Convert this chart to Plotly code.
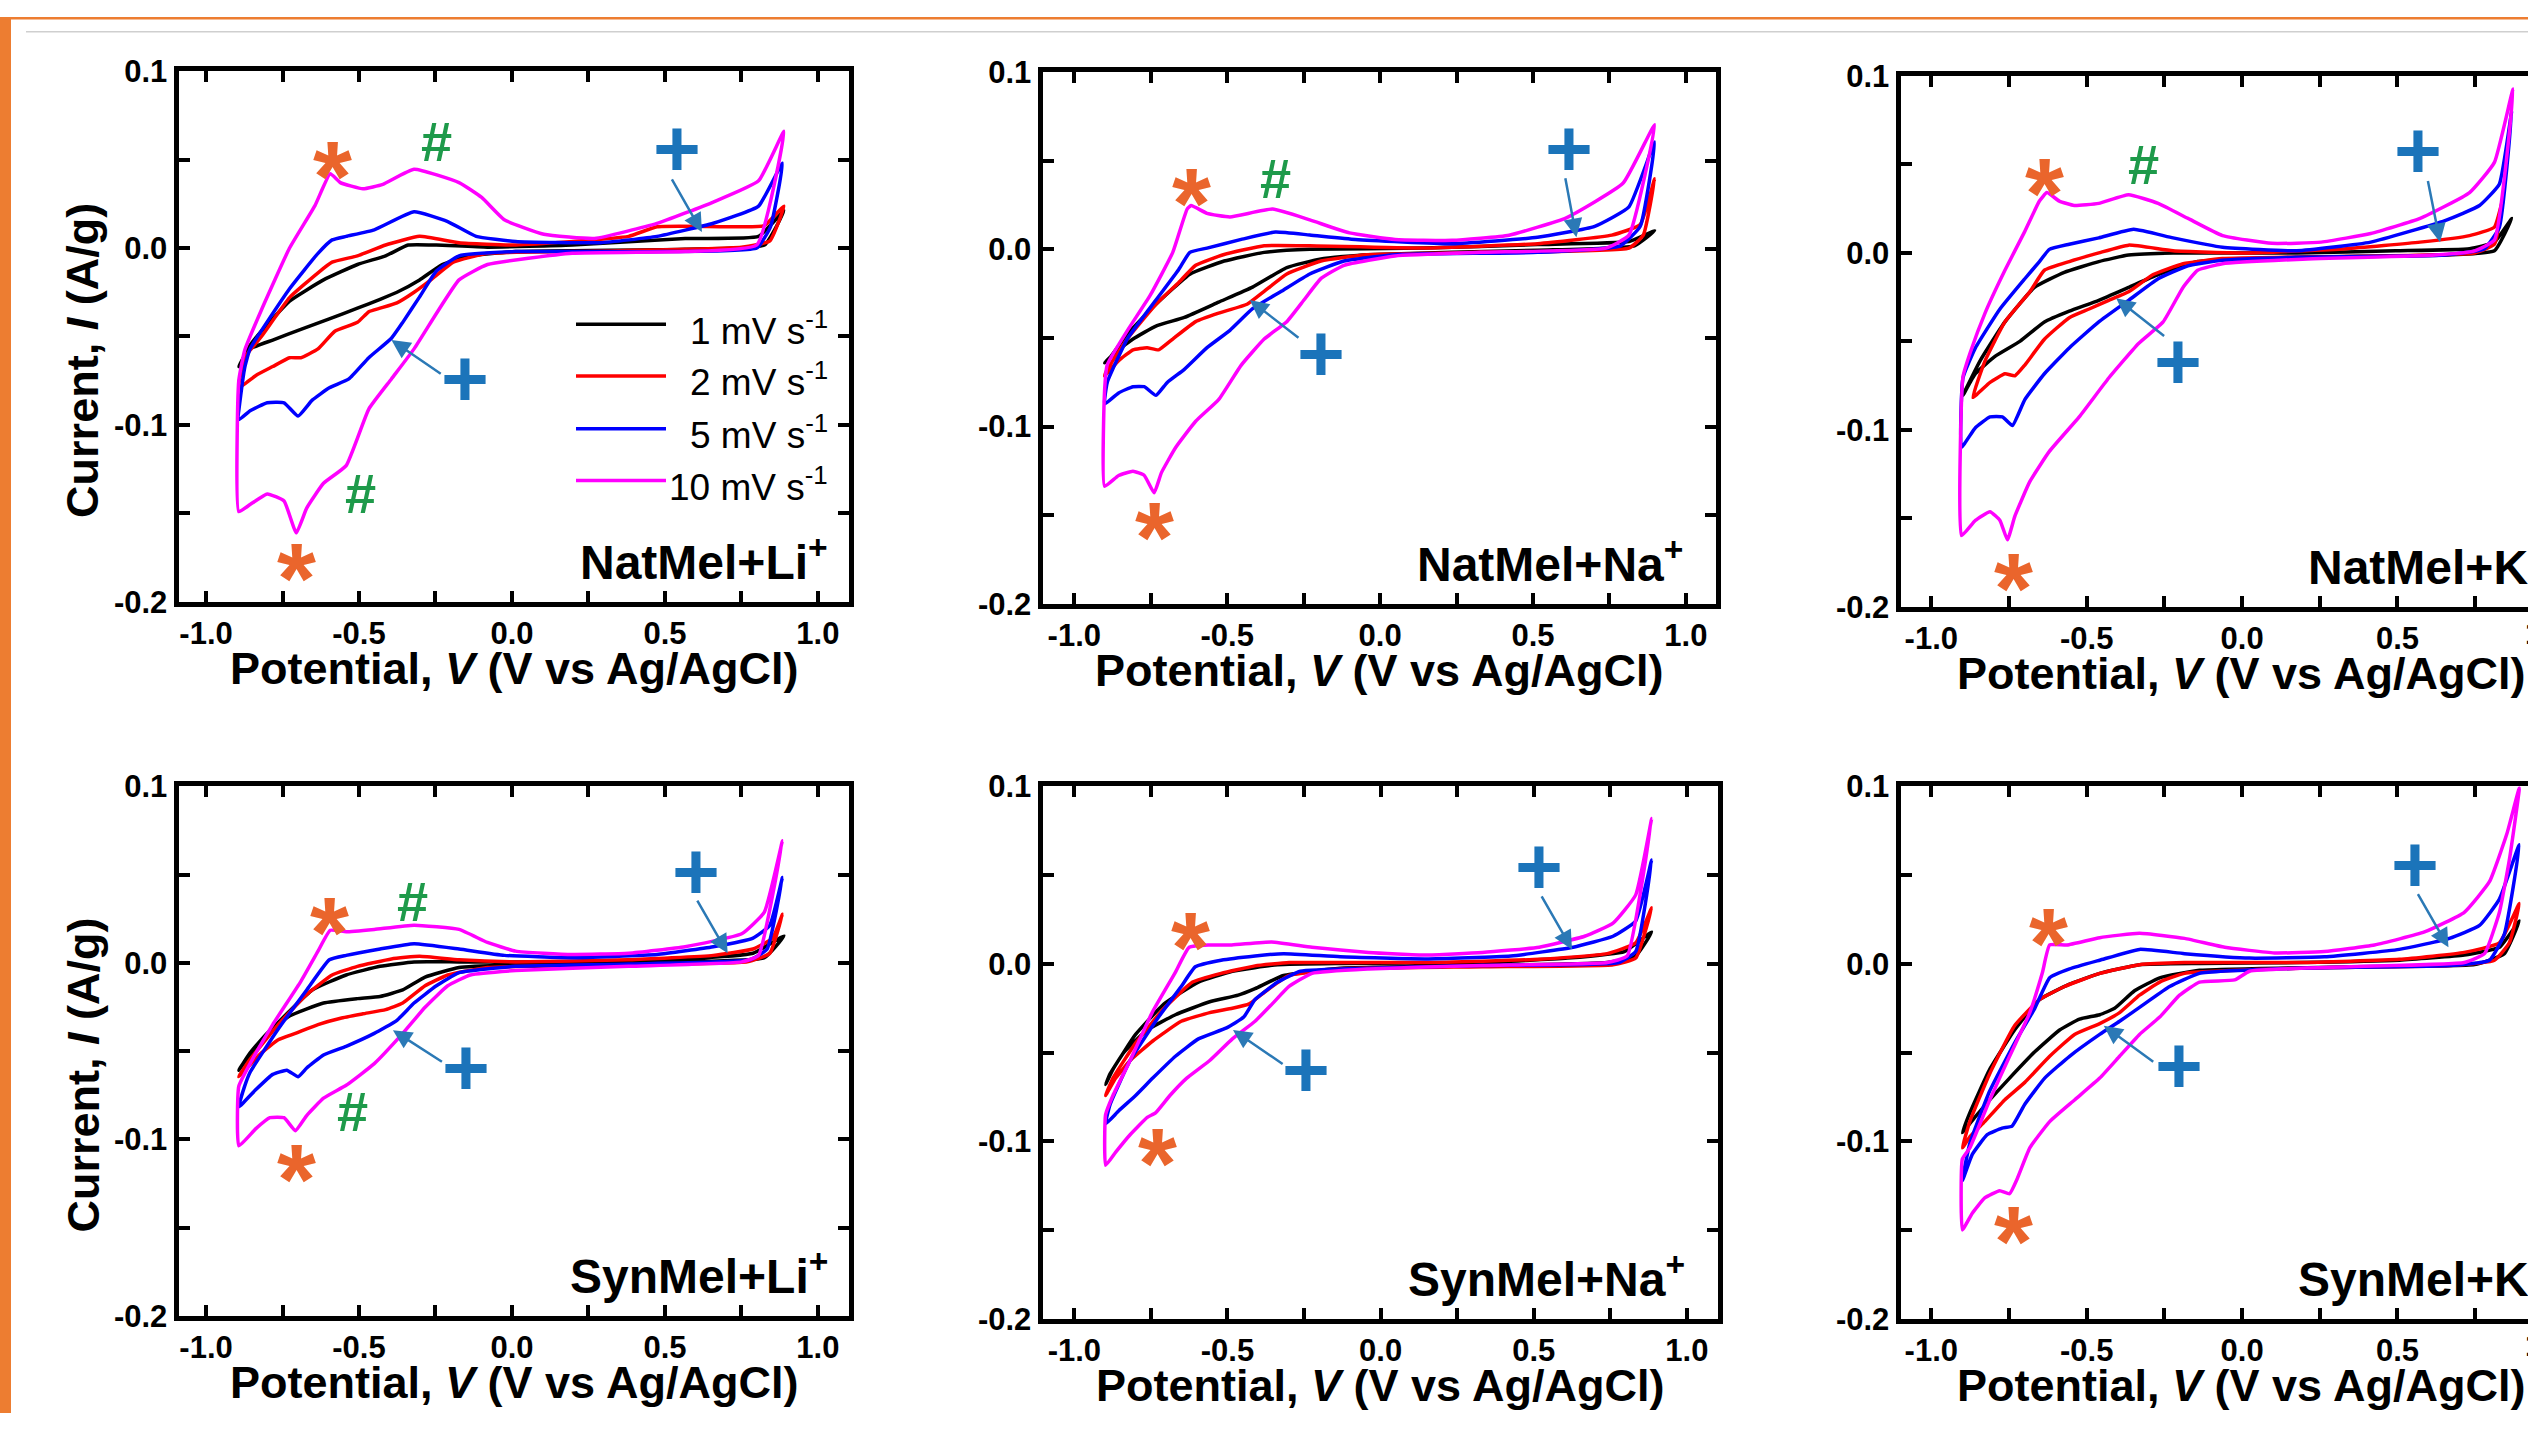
import plotly.graph_objects as go

W, H = 2528, 1431

# ---------------- data: cyclic voltammograms (V vs Ag/AgCl, A/g) ----------------
# Panel 1: NatMel + Li+
P1_V_1 = [-0.893, -0.856, -0.819, -0.727, -0.616, -0.505, -0.413, -0.339, -0.247, -0.08, 0.197, 0.566, 0.806, 0.889, 0.825, 0.566, 0.012, -0.136, -0.228, -0.302, -0.376, -0.431, -0.505, -0.597, -0.69, -0.782, -0.856, -0.893]
P1_I_1 = [-0.067, -0.055, -0.047, -0.030, -0.018, -0.0093, -0.0044, 0.0017, 0.0017, 0.0005, 0.0017, 0.0054, 0.0066, 0.021, 0.0017, -0.0007, -0.002, -0.0044, -0.0093, -0.018, -0.025, -0.029, -0.034, -0.040, -0.046, -0.052, -0.057, -0.067]
P1_V_2 = [-0.893, -0.874, -0.819, -0.727, -0.634, -0.588, -0.505, -0.413, -0.302, -0.173, 0.012, 0.381, 0.474, 0.751, 0.825, 0.889, 0.843, 0.75, 0.197, -0.08, -0.192, -0.265, -0.32, -0.376, -0.431, -0.468, -0.505, -0.579, -0.634, -0.69, -0.727, -0.782, -0.837, -0.893]
P1_I_2 = [-0.079, -0.062, -0.05, -0.028, -0.014, -0.008, -0.0044, 0.0017, 0.0066, 0.003, 0.0017, 0.0066, 0.012, 0.012, 0.0127, 0.0237, 0.004, 0.0005, -0.002, -0.003, -0.008, -0.018, -0.025, -0.031, -0.034, -0.036, -0.042, -0.047, -0.057, -0.062, -0.062, -0.067, -0.072, -0.079]
P1_V_5 = [-0.893, -0.874, -0.856, -0.727, -0.634, -0.588, -0.542, -0.45, -0.32, -0.21, -0.117, 0.012, 0.289, 0.474, 0.658, 0.806, 0.884, 0.845, 0.80, 0.5, 0.012, -0.173, -0.247, -0.302, -0.357, -0.394, -0.468, -0.533, -0.597, -0.653, -0.699, -0.745, -0.8, -0.856, -0.893]
P1_I_5 = [-0.097, -0.068, -0.057, -0.023, -0.003, 0.0046, 0.0066, 0.0103, 0.0205, 0.015, 0.0066, 0.0037, 0.003, 0.0066, 0.014, 0.0237, 0.048, 0.012, 0.0, -0.002, -0.002, -0.0044, -0.013, -0.0276, -0.042, -0.051, -0.062, -0.074, -0.079, -0.086, -0.095, -0.0875, -0.0875, -0.092, -0.097]
P1_V_10 = [-0.893, -0.893, -0.874, -0.819, -0.727, -0.644, -0.594, -0.561, -0.487, -0.422, -0.32, -0.173, -0.099, -0.025, 0.104, 0.27, 0.474, 0.658, 0.806, 0.889, 0.80, 0.566, 0.197, -0.08, -0.173, -0.247, -0.32, -0.394, -0.468, -0.542, -0.616, -0.671, -0.705, -0.745, -0.8, -0.856, -0.893]
P1_I_10 = [-0.149, -0.075, -0.058, -0.035, 0.0, 0.024, 0.042, 0.037, 0.0335, 0.036, 0.0445, 0.037, 0.0286, 0.016, 0.0078, 0.0054, 0.0139, 0.026, 0.038, 0.066, 0.0017, -0.002, -0.003, -0.0093, -0.018, -0.037, -0.057, -0.074, -0.091, -0.123, -0.133, -0.147, -0.161, -0.143, -0.139, -0.145, -0.149]

# Panel 2: NatMel + Na+
P2_V_1 = [-0.901, -0.892, -0.827, -0.733, -0.622, -0.51, -0.379, -0.23, 0.143, 0.515, 0.814, 0.898, 0.832, 0.515, -0.044, -0.193, -0.305, -0.417, -0.528, -0.64, -0.733, -0.808, -0.864, -0.901]
P2_I_1 = [-0.064, -0.063, -0.048, -0.031, -0.014, -0.0066, -0.0017, 0.0, 0.0007, 0.0027, 0.0044, 0.0105, 0.002, -0.0005, -0.003, -0.0054, -0.0103, -0.0213, -0.0298, -0.0384, -0.0433, -0.0506, -0.058, -0.064]
P2_V_2 = [-0.901, -0.892, -0.827, -0.733, -0.659, -0.603, -0.51, -0.379, -0.23, 0.143, 0.515, 0.758, 0.851, 0.898, 0.861, 0.814, 0.329, -0.044, -0.193, -0.305, -0.379, -0.435, -0.528, -0.603, -0.678, -0.724, -0.762, -0.808, -0.855, -0.901]
P2_I_2 = [-0.0714, -0.0677, -0.0506, -0.031, -0.0188, -0.009, -0.0029, 0.002, 0.002, 0.0007, 0.0032, 0.008, 0.014, 0.0399, 0.008, 0.0007, -0.0017, -0.003, -0.0066, -0.0139, -0.0237, -0.031, -0.036, -0.0408, -0.0506, -0.0567, -0.0555, -0.0567, -0.0628, -0.0714]
P2_V_5 = [-0.901, -0.892, -0.827, -0.733, -0.659, -0.622, -0.566, -0.454, -0.342, -0.23, -0.081, 0.236, 0.515, 0.702, 0.814, 0.898, 0.851, 0.786, 0.515, 0.049, -0.118, -0.23, -0.323, -0.417, -0.491, -0.566, -0.64, -0.696, -0.733, -0.771, -0.808, -0.855, -0.901]
P2_I_5 = [-0.0873, -0.075, -0.0506, -0.0286, -0.0115, -0.0017, 0.0007, 0.0056, 0.0098, 0.0081, 0.0056, 0.0032, 0.0068, 0.013, 0.024, 0.0606, 0.013, 0.002, -0.0017, -0.003, -0.0066, -0.0139, -0.0237, -0.0335, -0.0457, -0.0555, -0.0677, -0.0751, -0.0824, -0.0775, -0.0775, -0.081, -0.0873]
P2_V_10 = [-0.901, -0.901, -0.892, -0.827, -0.752, -0.678, -0.631, -0.618, -0.566, -0.491, -0.351, -0.23, -0.1, 0.049, 0.236, 0.422, 0.609, 0.795, 0.898, 0.814, 0.739, 0.329, 0.049, -0.118, -0.193, -0.249, -0.305, -0.379, -0.454, -0.528, -0.603, -0.668, -0.715, -0.739, -0.771, -0.808, -0.855, -0.901]
P2_I_10 = [-0.1337, -0.08, -0.065, -0.046, -0.026, -0.0017, 0.0227, 0.0247, 0.0203, 0.0183, 0.0227, 0.0166, 0.0093, 0.0056, 0.0051, 0.008, 0.0178, 0.0374, 0.0704, 0.008, 0.0007, -0.0017, -0.0037, -0.009, -0.0164, -0.0286, -0.0408, -0.0506, -0.0653, -0.0848, -0.097, -0.1117, -0.126, -0.1374, -0.1276, -0.1252, -0.1276, -0.1337]

# Panel 3: NatMel + K+
P3_V_1 = [-0.898, -0.843, -0.763, -0.668, -0.572, -0.461, -0.365, -0.222, 0.176, 0.494, 0.732, 0.812, 0.868, 0.812, 0.653, 0.176, -0.143, -0.27, -0.365, -0.461, -0.556, -0.636, -0.715, -0.795, -0.858, -0.898]
P3_I_1 = [-0.0805, -0.061, -0.039, -0.0195, -0.011, -0.0049, -0.0012, 0.0, 0.0, 0.0012, 0.0024, 0.0061, 0.0195, 0.0012, -0.0012, -0.0024, -0.0049, -0.0122, -0.0195, -0.0268, -0.0329, -0.039, -0.05, -0.0585, -0.0683, -0.0805]
P3_V_2 = [-0.866, -0.827, -0.763, -0.683, -0.636, -0.556, -0.461, -0.365, -0.222, 0.017, 0.335, 0.573, 0.732, 0.812, 0.841, 0.812, 0.748, 0.335, -0.063, -0.19, -0.286, -0.365, -0.429, -0.492, -0.556, -0.636, -0.699, -0.731, -0.763, -0.811, -0.866]
P3_I_2 = [-0.0817, -0.061, -0.039, -0.022, -0.0098, -0.0049, 0.0, 0.0044, 0.0012, 0.0, 0.0024, 0.0061, 0.0098, 0.0146, 0.0317, 0.0049, 0.0, -0.002, -0.0032, -0.0061, -0.0122, -0.022, -0.0268, -0.0317, -0.0366, -0.0488, -0.0634, -0.0695, -0.0683, -0.0732, -0.0817]
P3_V_5 = [-0.903, -0.898, -0.858, -0.779, -0.699, -0.652, -0.62, -0.556, -0.461, -0.349, -0.222, -0.063, 0.176, 0.414, 0.653, 0.764, 0.828, 0.868, 0.828, 0.78, 0.653, 0.176, -0.063, -0.174, -0.27, -0.365, -0.461, -0.556, -0.636, -0.699, -0.739, -0.771, -0.811, -0.858, -0.903]
P3_I_5 = [-0.1098, -0.0707, -0.0537, -0.0317, -0.0146, -0.0049, 0.002, 0.0049, 0.0085, 0.0134, 0.0085, 0.0032, 0.0012, 0.0061, 0.0183, 0.0268, 0.039, 0.0805, 0.0146, 0.0024, -0.0012, -0.0024, -0.0041, -0.0073, -0.0146, -0.0268, -0.039, -0.0537, -0.0683, -0.0829, -0.0976, -0.0927, -0.0927, -0.0988, -0.1098]
P3_V_10 = [-0.903, -0.898, -0.874, -0.827, -0.763, -0.699, -0.652, -0.628, -0.588, -0.54, -0.461, -0.365, -0.27, -0.174, -0.063, 0.096, 0.255, 0.414, 0.573, 0.732, 0.812, 0.872, 0.812, 0.748, 0.621, 0.176, -0.063, -0.143, -0.19, -0.254, -0.333, -0.429, -0.524, -0.62, -0.683, -0.731, -0.755, -0.779, -0.811, -0.858, -0.903]
P3_I_10 = [-0.1598, -0.07, -0.056, -0.034, -0.0098, 0.0122, 0.0293, 0.0341, 0.0293, 0.0268, 0.028, 0.0329, 0.028, 0.0195, 0.0098, 0.0054, 0.0061, 0.011, 0.0195, 0.0341, 0.0512, 0.0927, 0.0073, 0.0012, -0.0012, -0.0037, -0.0061, -0.0098, -0.0195, -0.039, -0.0512, -0.0707, -0.0927, -0.1122, -0.1293, -0.1488, -0.1622, -0.1512, -0.1463, -0.1512, -0.1598]

# Panel 4: SynMel + Li+
P4_V_1 = [-0.893, -0.856, -0.764, -0.653, -0.542, -0.431, -0.32, -0.173, 0.197, 0.566, 0.788, 0.889, 0.825, 0.566, 0.012, -0.173, -0.284, -0.357, -0.431, -0.505, -0.616, -0.727, -0.801, -0.856, -0.893]
P4_I_1 = [-0.0608, -0.0522, -0.0338, -0.0154, -0.0069, -0.002, 0.0005, 0.0005, 0.0005, 0.0022, 0.0054, 0.0152, 0.0029, 0.0005, -0.0012, -0.0027, -0.0081, -0.0154, -0.0191, -0.0203, -0.0228, -0.0301, -0.04, -0.051, -0.0608]
P4_V_2 = [-0.893, -0.856, -0.764, -0.671, -0.588, -0.505, -0.394, -0.302, -0.173, 0.012, 0.381, 0.658, 0.788, 0.852, 0.884, 0.843, 0.769, 0.381, -0.08, -0.21, -0.284, -0.357, -0.413, -0.487, -0.56, -0.634, -0.708, -0.764, -0.819, -0.893]
P4_I_2 = [-0.0645, -0.0547, -0.035, -0.0179, -0.0069, -0.002, 0.0022, 0.0037, 0.0017, 0.0005, 0.0017, 0.0042, 0.0078, 0.014, 0.0275, 0.0054, 0.0005, -0.0012, -0.0027, -0.0069, -0.013, -0.0228, -0.0265, -0.0289, -0.0314, -0.035, -0.04, -0.0436, -0.051, -0.0645]
P4_V_5 = [-0.893, -0.874, -0.856, -0.764, -0.671, -0.597, -0.542, -0.431, -0.32, -0.173, -0.025, 0.197, 0.474, 0.658, 0.788, 0.843, 0.884, 0.834, 0.778, 0.381, 0.012, -0.173, -0.247, -0.32, -0.376, -0.45, -0.542, -0.616, -0.671, -0.699, -0.736, -0.782, -0.837, -0.893]
P4_I_5 = [-0.0816, -0.07, -0.062, -0.0375, -0.0154, 0.0017, 0.0042, 0.0078, 0.0108, 0.0078, 0.0042, 0.0029, 0.0047, 0.0091, 0.014, 0.0213, 0.0483, 0.0078, 0.0017, -0.0007, -0.002, -0.0056, -0.013, -0.0228, -0.0326, -0.04, -0.0473, -0.0522, -0.0596, -0.0645, -0.0608, -0.0632, -0.0718, -0.0816]
P4_V_10 = [-0.893, -0.893, -0.856, -0.782, -0.69, -0.634, -0.594, -0.542, -0.45, -0.32, -0.173, -0.08, 0.012, 0.197, 0.381, 0.566, 0.751, 0.825, 0.884, 0.806, 0.751, 0.381, 0.012, -0.136, -0.21, -0.284, -0.357, -0.45, -0.542, -0.616, -0.671, -0.708, -0.745, -0.791, -0.837, -0.893]
P4_I_10 = [-0.1037, -0.07, -0.0571, -0.035, -0.0105, 0.0066, 0.0184, 0.0176, 0.0189, 0.0213, 0.0189, 0.0115, 0.0066, 0.0047, 0.0054, 0.0091, 0.0164, 0.0287, 0.0691, 0.0042, 0.0005, -0.002, -0.0044, -0.0069, -0.013, -0.0252, -0.04, -0.0571, -0.0694, -0.0767, -0.0865, -0.0951, -0.0877, -0.0877, -0.0939, -0.1037]

# Panel 5: SynMel + Na+
P5_V_1 = [-0.898, -0.874, -0.8, -0.707, -0.595, -0.484, -0.336, -0.132, 0.332, 0.61, 0.796, 0.885, 0.833, 0.74, 0.332, -0.132, -0.317, -0.41, -0.465, -0.558, -0.67, -0.762, -0.837, -0.883, -0.898]
P5_I_1 = [-0.068, -0.0595, -0.0398, -0.0226, -0.0103, -0.0042, -0.0005, 0.0002, 0.0007, 0.0032, 0.0069, 0.0179, 0.0044, 0.0007, -0.001, -0.0025, -0.0066, -0.014, -0.0177, -0.0214, -0.0287, -0.0373, -0.0496, -0.0619, -0.068]
P5_V_2 = [-0.898, -0.874, -0.8, -0.707, -0.614, -0.521, -0.41, -0.299, -0.132, 0.147, 0.518, 0.74, 0.833, 0.885, 0.833, 0.759, 0.332, -0.132, -0.299, -0.373, -0.429, -0.484, -0.558, -0.651, -0.744, -0.818, -0.865, -0.898]
P5_I_2 = [-0.0742, -0.0644, -0.0447, -0.0251, -0.0103, -0.0054, -0.0012, 0.0007, 0.0007, 0.0007, 0.0025, 0.0057, 0.0118, 0.0315, 0.0032, -0.0005, -0.0017, -0.0029, -0.0066, -0.0152, -0.0226, -0.0251, -0.0275, -0.0324, -0.0435, -0.0545, -0.0644, -0.0742]
P5_V_5 = [-0.898, -0.883, -0.818, -0.725, -0.651, -0.605, -0.521, -0.41, -0.317, -0.132, 0.147, 0.425, 0.629, 0.759, 0.833, 0.885, 0.833, 0.777, 0.332, -0.039, -0.262, -0.336, -0.41, -0.447, -0.503, -0.595, -0.67, -0.744, -0.8, -0.855, -0.898]
P5_I_5 = [-0.0902, -0.0791, -0.0545, -0.03, -0.0128, -0.0017, 0.002, 0.0044, 0.0057, 0.0039, 0.0027, 0.0044, 0.0093, 0.0155, 0.0241, 0.0585, 0.0069, 0.0007, -0.001, -0.0025, -0.0042, -0.0103, -0.0201, -0.03, -0.0361, -0.0423, -0.0521, -0.0644, -0.0742, -0.0828, -0.0902]
P5_V_10 = [-0.898, -0.898, -0.874, -0.818, -0.746, -0.672, -0.625, -0.561, -0.486, -0.356, -0.224, -0.039, 0.147, 0.332, 0.518, 0.666, 0.759, 0.833, 0.885, 0.805, 0.74, 0.332, -0.039, -0.224, -0.299, -0.354, -0.41, -0.484, -0.558, -0.633, -0.688, -0.735, -0.762, -0.818, -0.865, -0.898]
P5_I_10 = [-0.1135, -0.085, -0.0742, -0.0545, -0.0275, -0.0054, 0.0093, 0.0106, 0.0106, 0.0123, 0.0093, 0.0064, 0.0049, 0.0064, 0.0093, 0.0155, 0.0229, 0.0388, 0.0818, 0.0044, 0.0007, -0.001, -0.0029, -0.0054, -0.0128, -0.0226, -0.0324, -0.0423, -0.0545, -0.0644, -0.0742, -0.084, -0.0865, -0.0963, -0.1061, -0.1135]

# Panel 6: SynMel + K+
P6_V_1 = [-0.9, -0.876, -0.812, -0.732, -0.651, -0.555, -0.458, -0.33, -0.137, 0.185, 0.506, 0.715, 0.828, 0.892, 0.844, 0.748, 0.346, -0.137, -0.265, -0.346, -0.41, -0.458, -0.523, -0.587, -0.667, -0.748, -0.812, -0.86, -0.9]
P6_I_1 = [-0.0951, -0.084, -0.0595, -0.0373, -0.0201, -0.0115, -0.0054, -0.0005, 0.0002, 0.0007, 0.002, 0.0049, 0.0093, 0.0241, 0.0057, -0.0005, -0.0017, -0.0037, -0.0079, -0.0152, -0.0251, -0.0287, -0.0312, -0.0373, -0.0496, -0.0644, -0.0767, -0.0865, -0.0951]
P6_V_2 = [-0.9, -0.876, -0.812, -0.732, -0.651, -0.571, -0.458, -0.33, -0.185, 0.185, 0.506, 0.715, 0.828, 0.892, 0.86, 0.812, 0.667, 0.185, -0.185, -0.265, -0.33, -0.394, -0.458, -0.539, -0.619, -0.699, -0.764, -0.828, -0.876, -0.9]
P6_I_2 = [-0.1037, -0.0889, -0.0619, -0.0349, -0.0201, -0.0128, -0.0054, -0.0005, 0.0007, 0.0007, 0.0025, 0.0064, 0.0118, 0.0339, 0.0118, 0.002, -0.001, -0.0025, -0.0054, -0.0103, -0.0177, -0.0275, -0.0337, -0.0398, -0.0521, -0.0668, -0.0767, -0.0889, -0.0975, -0.1037]
P6_V_5 = [-0.9, -0.876, -0.812, -0.732, -0.667, -0.619, -0.555, -0.458, -0.33, -0.185, 0.024, 0.265, 0.506, 0.667, 0.764, 0.828, 0.892, 0.844, 0.796, 0.667, 0.185, -0.137, -0.233, -0.314, -0.394, -0.458, -0.555, -0.635, -0.699, -0.74, -0.772, -0.82, -0.868, -0.9]
P6_I_5 = [-0.1221, -0.1012, -0.0717, -0.0447, -0.0251, -0.0079, -0.0029, 0.002, 0.0081, 0.0057, 0.0032, 0.0039, 0.0081, 0.0143, 0.0216, 0.0364, 0.0671, 0.0167, 0.002, -0.001, -0.0025, -0.0054, -0.0128, -0.0226, -0.0324, -0.0398, -0.0521, -0.0644, -0.0791, -0.0914, -0.0926, -0.0963, -0.1074, -0.1221]
P6_V_10 = [-0.9, -0.9, -0.876, -0.812, -0.748, -0.683, -0.643, -0.619, -0.563, -0.458, -0.33, -0.185, -0.056, 0.104, 0.265, 0.426, 0.587, 0.715, 0.796, 0.852, 0.892, 0.86, 0.828, 0.78, 0.715, 0.346, 0.024, -0.024, -0.137, -0.201, -0.265, -0.33, -0.394, -0.458, -0.539, -0.619, -0.683, -0.723, -0.748, -0.78, -0.828, -0.868, -0.9]
P6_I_10 = [-0.1499, -0.11, -0.1037, -0.0767, -0.0521, -0.0275, -0.0054, 0.0106, 0.0106, 0.0147, 0.0172, 0.0143, 0.0093, 0.0061, 0.0069, 0.0106, 0.0179, 0.029, 0.0462, 0.0732, 0.099, 0.0585, 0.029, 0.0057, 0.0007, -0.0017, -0.0042, -0.0091, -0.0103, -0.0177, -0.03, -0.0398, -0.0521, -0.0644, -0.0767, -0.0889, -0.1037, -0.1209, -0.1295, -0.1278, -0.1319, -0.1405, -0.1499]

SCAN_RATES = ["1 mV s<sup>-1</sup>", "2 mV s<sup>-1</sup>", "5 mV s<sup>-1</sup>", "10 mV s<sup>-1</sup>"]
PANEL_LABELS = ["NatMel+Li<sup>+</sup>", "NatMel+Na<sup>+</sup>", "NatMel+K<sup>+</sup>",
                "SynMel+Li<sup>+</sup>", "SynMel+Na<sup>+</sup>", "SynMel+K<sup>+</sup>"]
X_TICKVALS = [-1.0, -0.5, 0.0, 0.5, 1.0]
X_TICKTEXT = ["-1.0", "-0.5", "0.0", "0.5", "1.0"]
Y_TICKVALS = [0.1, 0.0, -0.1, -0.2]
Y_TICKTEXT = ["0.1", "0.0", "-0.1", "-0.2"]
X_TITLE = "<b>Potential, <i>V</i> (V vs Ag/AgCl)</b>"
Y_TITLE = "<b>Current, <i>I</i> (A/g)</b>"

CURVES = [
    [(P1_V_1, P1_I_1), (P1_V_2, P1_I_2), (P1_V_5, P1_I_5), (P1_V_10, P1_I_10)],
    [(P2_V_1, P2_I_1), (P2_V_2, P2_I_2), (P2_V_5, P2_I_5), (P2_V_10, P2_I_10)],
    [(P3_V_1, P3_I_1), (P3_V_2, P3_I_2), (P3_V_5, P3_I_5), (P3_V_10, P3_I_10)],
    [(P4_V_1, P4_I_1), (P4_V_2, P4_I_2), (P4_V_5, P4_I_5), (P4_V_10, P4_I_10)],
    [(P5_V_1, P5_I_1), (P5_V_2, P5_I_2), (P5_V_5, P5_I_5), (P5_V_10, P5_I_10)],
    [(P6_V_1, P6_I_1), (P6_V_2, P6_I_2), (P6_V_5, P6_I_5), (P6_V_10, P6_I_10)],
]

# ---------------- layout / style ----------------
COLORS = ["#000000", "#FF0000", "#0000FF", "#FF00FF"]
STAR_C, HASH_C, PLUS_C, ARROW_C = "#EA652C", "#1E9A4A", "#1B74BA", "#2B79B6"
FONT = "Liberation Sans, Arial, sans-serif"

# panel boxes in pixels: left, right, top, bottom, x-range, right side shown
PANELS = [
    dict(l=176, r=851, t=53, b=602, xr=[-1.09, 1.10], full=True),
    dict(l=1040, r=1718, t=54, b=604, xr=[-1.104, 1.097], full=True),
    dict(l=1898, r=2528, t=58, b=607, xr=[-1.099, 0.92], full=False),
    dict(l=176, r=851, t=786, b=1334, xr=[-1.09, 1.10], full=True),
    dict(l=1040, r=1720, t=786, b=1337, xr=[-1.104, 1.10], full=True),
    dict(l=1898, r=2528, t=786, b=1337, xr=[-1.099, 0.92], full=False),
]

# annotation positions in data coordinates per panel
STARS = [[(-0.588, 0.053), (-0.705, -0.174)], [(-0.618, 0.0386), (-0.737, -0.150)],
         [(-0.636, 0.0463), (-0.736, -0.1768)], [(-0.597, 0.0299), (-0.705, -0.110)],
         [(-0.621, 0.0216), (-0.727, -0.100)], [(-0.622, 0.0241), (-0.736, -0.144)]]
HASHES = [[(-0.247, 0.060), (-0.496, -0.139)], [(-0.342, 0.040)], [(-0.318, 0.050)],
          [(-0.324, 0.0348), (-0.52, -0.084)], [], []]
PLUSES = [[(0.538, 0.0567), (-0.154, -0.0729)], [(0.618, 0.0575), (-0.193, -0.058)],
          [(0.565, 0.0585), (-0.206, -0.061)], [(0.600, 0.052), (-0.150, -0.059)],
          [(0.517, 0.0553), (-0.244, -0.059)], [(0.555, 0.0565), (-0.204, -0.057)]]
# arrows: (tail V, tail I, head V, head I)
ARROWS = [[(0.52, 0.0396, 0.621, 0.009), (-0.228, -0.0716, -0.394, -0.052)],
          [(0.605, 0.041, 0.642, 0.0068), (-0.262, -0.0506, -0.426, -0.0286)],
          [(0.597, 0.0415, 0.637, 0.0061), (-0.246, -0.0476, -0.405, -0.0256)],
          [(0.603, 0.036, 0.705, 0.0054), (-0.224, -0.0566, -0.389, -0.0382)],
          [(0.523, 0.0388, 0.625, 0.0081), (-0.315, -0.057, -0.482, -0.0373)],
          [(0.563, 0.040, 0.664, 0.0093), (-0.281, -0.0558, -0.445, -0.0349)]]


def px(x):
    return x / W


def py(y):
    return 1 - y / H


fig = go.Figure()
layout = dict(width=W, height=H, margin=dict(l=0, r=0, t=0, b=0), autosize=False,
              paper_bgcolor="white", plot_bgcolor="white", showlegend=False,
              font=dict(family=FONT, color="black"))
annotations = []
shapes = []
TICKFONT = dict(family=FONT, size=31, color="black", weight="bold")

for k, p in enumerate(PANELS):
    sfx = "" if k == 0 else str(k + 1)
    xa, ya = "xaxis" + sfx, "yaxis" + sfx
    xr, yr = "x" + sfx, "y" + sfx
    inset = 2.5
    xdom = [px(p["l"] + inset), px(p["r"] - inset) if p["full"] else 1.0]
    ydom = [py(p["b"] - inset), py(p["t"] + inset)]
    common_tick = dict(ticks="inside", ticklen=11, tickwidth=4, tickcolor="black",
                       showline=True, linewidth=5, linecolor="black", showgrid=False,
                       zeroline=False, tickfont=TICKFONT)
    layout[xa] = dict(domain=xdom, range=p["xr"], anchor=yr, tickmode="array",
                      tickvals=X_TICKVALS, ticktext=X_TICKTEXT, mirror="ticks",
                      minor=dict(tickmode="array", tickvals=[-0.75, -0.25, 0.25, 0.75],
                                 ticks="inside", ticklen=11, tickwidth=4, tickcolor="black"),
                      **common_tick)
    layout[ya] = dict(domain=ydom, range=[-0.2, 0.1], anchor=xr, tickmode="array",
                      tickvals=Y_TICKVALS, ticktext=Y_TICKTEXT,
                      mirror="ticks" if p["full"] else False,
                      minor=dict(tickmode="array", tickvals=[0.05, -0.05, -0.15],
                                 ticks="inside", ticklen=11, tickwidth=4, tickcolor="black"),
                      **common_tick)

    for j, (v, i) in enumerate(CURVES[k]):
        fig.add_trace(go.Scatter(x=v, y=i, mode="lines", xaxis=xr, yaxis=yr,
                                 name=SCAN_RATES[j].replace("<sup>", "").replace("</sup>", ""),
                                 line=dict(color=COLORS[j], width=3.5, shape="spline", smoothing=0.4),
                                 hoverinfo="skip"))

    # peak markers
    for (sx, sy) in STARS[k]:
        annotations.append(dict(x=sx, y=sy, xref=xr, yref=yr, text="<b>*</b>", showarrow=False,
                                font=dict(family=FONT, size=100, color=STAR_C), yshift=-22))
    for (sx, sy) in HASHES[k]:
        annotations.append(dict(x=sx, y=sy, xref=xr, yref=yr, text="<b>#</b>", showarrow=False,
                                font=dict(family=FONT, size=56, color=HASH_C)))
    for (sx, sy) in PLUSES[k]:
        annotations.append(dict(x=sx, y=sy, xref=xr, yref=yr, text="<b>+</b>", showarrow=False,
                                font=dict(family=FONT, size=82, color=PLUS_C)))
    for (tx, ty, hx, hy) in ARROWS[k]:
        annotations.append(dict(x=hx, y=hy, ax=tx, ay=ty, xref=xr, yref=yr, axref=xr, ayref=yr,
                                text="", showarrow=True, arrowhead=2, arrowsize=1.5,
                                arrowwidth=2.5, arrowcolor=ARROW_C, standoff=0, startstandoff=0))

    # panel label
    label_right = 2550 if not p["full"] else p["r"] - (21 if k % 3 == 0 else 33)
    annotations.append(dict(x=px(label_right), y=py(p["b"] - 46), xref="paper", yref="paper",
                            xanchor="right", yanchor="middle", showarrow=False,
                            text="<b>" + PANEL_LABELS[k] + "</b>",
                            font=dict(family=FONT, size=48, color="black")))
    # x-axis title (centred on the full panel width, even where the page cuts it)
    if p["full"]:
        cx = (p["l"] + p["r"]) / 2
    else:
        cx = p["l"] + 2.2 * 312 / 2
        # partially visible "1.0" tick label at the cut right edge
        annotations.append(dict(x=px(2546), y=py(p["b"] + 25), xref="paper", yref="paper",
                                xanchor="center", yanchor="middle", showarrow=False,
                                text=X_TICKTEXT[-1], font=TICKFONT))
    annotations.append(dict(x=px(cx), y=py(p["b"] + 66), xref="paper", yref="paper",
                            xanchor="center", yanchor="middle", showarrow=False, text=X_TITLE,
                            font=dict(family=FONT, size=45, color="black")))
    if k % 3 == 0:
        annotations.append(dict(x=px(83), y=py((p["t"] + p["b"]) / 2 + 25), xref="paper", yref="paper",
                                xanchor="center", yanchor="middle", showarrow=False, text=Y_TITLE,
                                textangle=-90, font=dict(family=FONT, size=45, color="black")))

# legend (drawn inside panel 1)
LEG_ROWS = [315, 368, 422, 475]
for j, yy in enumerate(LEG_ROWS):
    shapes.append(dict(type="line", xref="paper", yref="paper", x0=px(576), x1=px(666),
                       y0=py(yy), y1=py(yy), line=dict(color=COLORS[j], width=3.5)))
    annotations.append(dict(x=px(830), y=py(yy), xref="paper", yref="paper", xanchor="right",
                            yanchor="middle", showarrow=False, text=SCAN_RATES[j], yshift=-4,
                            font=dict(family=FONT, size=37, color="black")))

# orange frame and thin grey rule at the top
shapes.append(dict(type="rect", xref="paper", yref="paper", x0=0, x1=px(11), y0=0, y1=1,
                   fillcolor="#ED7D31", line=dict(width=0), layer="above"))
shapes.append(dict(type="rect", xref="paper", yref="paper", x0=0, x1=1, y0=py(2.5), y1=1,
                   fillcolor="#ED7D31", line=dict(width=0), layer="above"))
shapes.append(dict(type="line", xref="paper", yref="paper", x0=px(26), x1=1, y0=py(15), y1=py(15),
                   line=dict(color="#CFCFCF", width=1.5)))

layout["annotations"] = annotations
layout["shapes"] = shapes
fig.update_layout(**layout)
fig.write_html("out.html", config={"displayModeBar": False})
